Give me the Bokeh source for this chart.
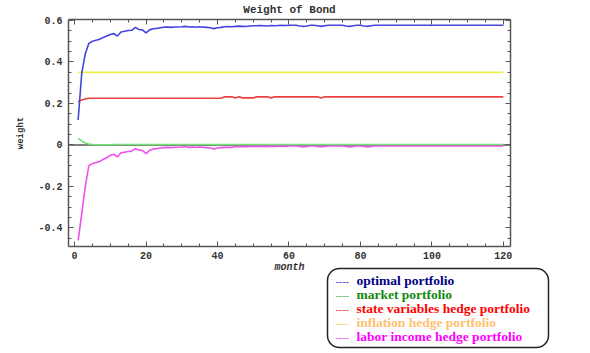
from bokeh.plotting import figure
from bokeh.layouts import column
from bokeh.models import (LinearAxis, SingleIntervalTicker, Span, Label, BoxAnnotation, Range1d)
from bokeh.embed import file_html
from bokeh.resources import INLINE

# ---------------- data ----------------
months = list(range(1, 121))

optimal = ([0.120, 0.345, 0.440, 0.490, 0.500, 0.505, 0.510, 0.518, 0.525, 0.533,
            0.537, 0.525, 0.545, 0.548, 0.552, 0.553, 0.567, 0.557, 0.555, 0.540,
            0.555, 0.560, 0.562, 0.565, 0.568, 0.568, 0.567, 0.569, 0.569, 0.570,
            0.572, 0.569, 0.570, 0.568, 0.570, 0.568, 0.567, 0.565, 0.561, 0.565,
            0.567, 0.570, 0.571, 0.570, 0.572, 0.573, 0.572, 0.571, 0.574, 0.575,
            0.575, 0.576, 0.575, 0.574, 0.576, 0.575, 0.576, 0.577, 0.576, 0.577,
            0.577, 0.577, 0.574, 0.572, 0.574, 0.577, 0.577, 0.575, 0.572, 0.575,
            0.577, 0.577, 0.577, 0.577, 0.577, 0.574, 0.572, 0.575, 0.577, 0.577,
            0.574, 0.572, 0.575] + [0.577] * 37)

market = ([0.032, 0.019, 0.009, 0.004, 0.002, 0.001, 0.001, 0.001, 0.001, 0.001]
          + [0.002] * 110)

state_hedge = ([0.210, 0.217, 0.222] + [0.225] * 38
               + [0.232, 0.232, 0.232, 0.226, 0.232, 0.227, 0.227, 0.227, 0.227,
                  0.232, 0.232, 0.232, 0.232, 0.227]
               + [0.232] * 13 + [0.226] + [0.232] * 51)

inflation_hedge = [0.35] * 120

labor_hedge = ([-0.460, -0.333, -0.200, -0.100, -0.090, -0.085, -0.080, -0.070, -0.062, -0.050,
                -0.045, -0.058, -0.038, -0.035, -0.032, -0.030, -0.018, -0.025, -0.027, -0.042,
                -0.027, -0.020, -0.018, -0.015, -0.013, -0.012, -0.013, -0.011, -0.011, -0.010,
                -0.008, -0.012, -0.010, -0.012, -0.010, -0.012, -0.013, -0.015, -0.020, -0.015,
                -0.013, -0.012, -0.011, -0.012, -0.009, -0.008, -0.007, -0.009, -0.007, -0.006,
                -0.008, -0.006, -0.007, -0.008, -0.006, -0.007, -0.006, -0.005, -0.007, -0.005,
                -0.005, -0.005, -0.008, -0.010, -0.008, -0.005, -0.005, -0.007, -0.009, -0.007,
                -0.005, -0.005, -0.005, -0.005, -0.005, -0.008, -0.010, -0.007, -0.005, -0.005,
                -0.008, -0.010, -0.007] + [-0.005] * 37)

series_names = ["optimal portfolio", "market portfolio", "state variables hedge portfolio",
                "inflation hedge portfolio", "labor income hedge portfolio"]

y_tick_labels = {0.6: "0.6", 0.4: "0.4", 0.2: "0.2", 0: "0", -0.2: "-0.2", -0.4: "-0.4"}

title_text = "Weight of Bond"
x_label = "month"
y_label = "weight"

# ---------------- styles ----------------
line_colors = ["#4444dd", "#77e077", "#ee4040", "#eeee50", "#ee50ee"]
dash_colors = ["#4444dd", "#55bb55", "#ee4040", "#f2d070", "#ee50ee"]
legend_text_colors = ["#000080", "#118811", "#ff0000", "#ffc070", "#ff00ff"]
MONO = "Liberation Mono"
SERIF = "Liberation Serif"
TXT = "#333333"
axis_color = "#555555"

W, H = 590, 353
FL, FR, FT, FB = 68, 510, 18, 246   # frame (canvas px)
MAIN_H = 262                         # height of the chart figure
LEG_H = H - MAIN_H                   # strip below it (x label + legend)

p = figure(width=W, height=MAIN_H, x_range=(-1.7, 122), y_range=(-0.49, 0.605),
           output_backend="svg", toolbar_location=None,
           min_border_left=FL, min_border_right=W - FR,
           min_border_top=FT, min_border_bottom=MAIN_H - FB)
p.outline_line_color = None
p.xgrid.visible = False
p.ygrid.visible = False


def style_axis(ax, labels=True):
    ax.axis_line_color = axis_color
    ax.axis_line_width = 1.5
    ax.major_tick_line_color = axis_color
    ax.minor_tick_line_color = axis_color
    ax.major_tick_in = 5
    ax.major_tick_out = 0
    ax.minor_tick_in = 3
    ax.minor_tick_out = 0
    ax.major_label_text_font = MONO
    ax.major_label_text_font_style = "bold"
    ax.major_label_text_font_size = "10px"
    ax.major_label_text_color = TXT
    if not labels:
        ax.major_label_text_color = None
        ax.major_label_text_font_size = "0px"
        ax.major_label_standoff = 0


p.xaxis.ticker = SingleIntervalTicker(interval=20, num_minor_ticks=4)
p.yaxis.ticker = SingleIntervalTicker(interval=0.2, num_minor_ticks=4)
style_axis(p.xaxis[0])
style_axis(p.yaxis[0])
p.yaxis.major_label_overrides = y_tick_labels
p.xaxis.major_label_standoff = 5
p.yaxis.major_label_standoff = 6
p.yaxis.axis_label = y_label
p.yaxis.axis_label_text_font = MONO
p.yaxis.axis_label_text_font_style = "bold"
p.yaxis.axis_label_text_font_size = "9px"
p.yaxis.axis_label_text_color = TXT
p.yaxis.axis_label_standoff = 9

ax_top = LinearAxis(ticker=SingleIntervalTicker(interval=20, num_minor_ticks=4))
style_axis(ax_top, labels=False)
ax_top.axis_label = title_text
ax_top.axis_label_text_font = MONO
ax_top.axis_label_text_font_style = "bold"
ax_top.axis_label_text_font_size = "11px"
ax_top.axis_label_text_color = TXT
ax_top.axis_label_standoff = 4
p.add_layout(ax_top, "above")

ax_right = LinearAxis(ticker=SingleIntervalTicker(interval=0.2, num_minor_ticks=4))
style_axis(ax_right, labels=False)
p.add_layout(ax_right, "right")

p.add_layout(Span(location=0, dimension="width", line_color=axis_color,
                  line_width=1.5, level="underlay"))

series = [optimal, market, state_hedge, inflation_hedge, labor_hedge]
for i in [3, 2, 0, 4, 1]:
    p.line(months, series[i], line_color=line_colors[i], line_width=1.6)

# ---------------- strip below: x-axis title + legend ----------------
# The column aligns this strip's frame with the chart frame's left edge (x = FL),
# so its frame spans canvas x FL..W; data units are canvas pixels (y grows downward).
q = figure(frame_width=W - FL, frame_height=LEG_H,
           x_range=Range1d(FL, W), y_range=Range1d(H, MAIN_H),
           output_backend="svg", toolbar_location=None,
           x_axis_type=None, y_axis_type=None, title=None,
           min_border_left=FL, min_border_right=0, min_border_top=0, min_border_bottom=0)
q.outline_line_color = None
q.xgrid.visible = False
q.ygrid.visible = False

q.add_layout(Label(x=(FL + FR) / 2, y=267, text=x_label, text_font=MONO,
                   text_font_style="bold italic", text_font_size="10px",
                   text_color=TXT, text_align="center", text_baseline="middle"))

q.add_layout(BoxAnnotation(left=327, right=548, top=268, bottom=347,
                           fill_color="white", fill_alpha=1.0,
                           line_color="#222222", line_alpha=1.0, line_width=1.5,
                           border_radius=12))

for k, name in enumerate(series_names):
    cy = 280 + 14 * k
    q.add_layout(Label(x=335, y=cy, text="----", text_font="Liberation Sans",
                       text_font_size="10px", text_color=dash_colors[k],
                       text_baseline="middle"))
    q.add_layout(Label(x=356, y=cy, text=name, text_font=SERIF, text_font_style="bold",
                       text_font_size="13.5px", text_color=legend_text_colors[k],
                       text_baseline="middle"))

layout = column(p, q, spacing=0)
open("out.html", "w").write(file_html(layout, INLINE))
